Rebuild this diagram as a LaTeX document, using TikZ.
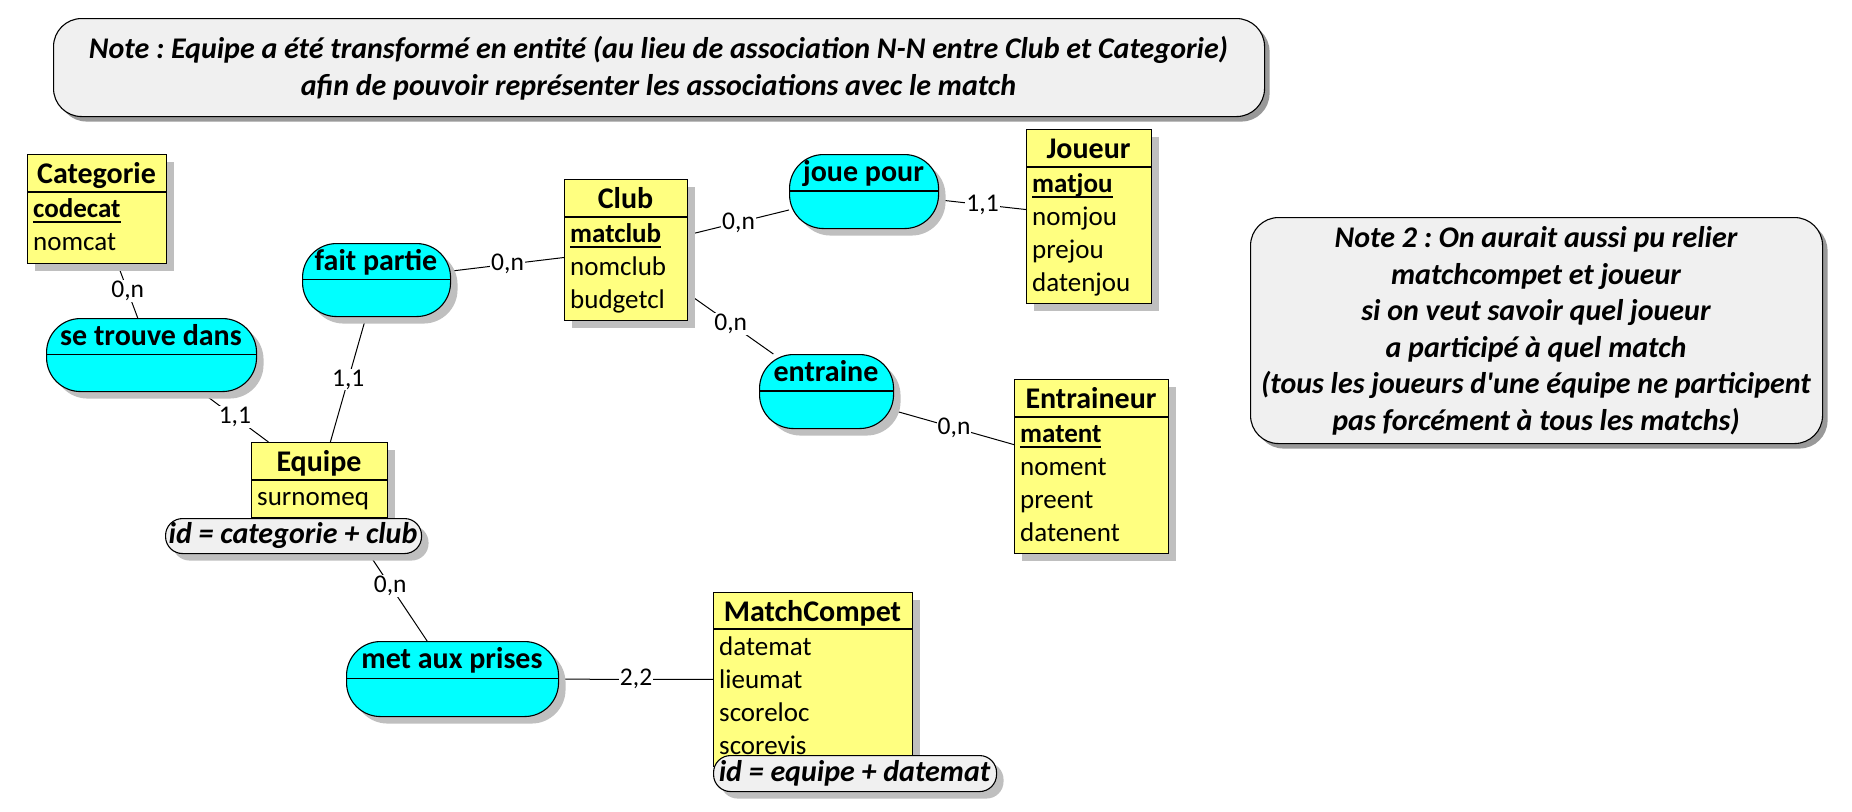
\documentclass[tikz,border=0pt]{standalone}
\usepackage{fontspec}
\setmainfont{Carlito}
\usetikzlibrary{shadows}
\definecolor{entyellow}{RGB}{255,255,128}
\definecolor{asscyan}{RGB}{0,255,255}
\definecolor{notegray}{RGB}{240,240,240}
\pgfdeclarelayer{bg}
\pgfsetlayers{bg,main}
\frenchspacing
\tikzset{
  shad/.style={drop shadow={shadow xshift=7pt, shadow yshift=-7pt, fill=black!25, opacity=1}},
  entbox/.style={draw=black, fill=entyellow, line width=1.1pt, anchor=north west, inner sep=0pt, shad},
  assoc/.style={draw=black, fill=asscyan, line width=1.1pt, rounded corners=34pt, anchor=north west, inner sep=0pt, shad},
  notebox/.style={draw=black, fill=notegray, line width=1.1pt, rounded corners=28pt, anchor=north west, inner sep=0pt,
     drop shadow={shadow xshift=5pt, shadow yshift=-5pt, fill=black!40, opacity=1}},
  idoval/.style={draw=black, fill=notegray, line width=1.1pt, rounded corners=17pt, anchor=north west, inner sep=0pt, shad},
  ttl/.style={font=\fontsize{30}{35}\selectfont\bfseries, anchor=base, inner sep=0pt},
  attr/.style={font=\fontsize{27}{32}\selectfont, anchor=base west, inner sep=0pt},
  card/.style={font=\fontsize{25.5}{30}\selectfont, fill=white, inner sep=1pt},
  link/.style={draw=black, line width=1pt},
  sep/.style={draw=black, line width=1.1pt},
  idtext/.style={font=\fontsize{30}{35}\selectfont\bfseries\itshape, inner sep=0pt},
  notetext/.style={font=\fontsize{30}{36.5}\selectfont\bfseries\itshape, align=center, inner sep=0pt}
}
\newcommand{\idattr}[1]{\setbox0\hbox{\bfseries #1}\rlap{\rule[-5.5pt]{\wd0}{1.2pt}}\box0}
\begin{document}
\begin{tikzpicture}[x=1pt,y=-1pt]
\useasboundingbox (0,0) rectangle (1852,811);

% ---------- Notes ----------
\node[notebox, minimum width=1211pt, minimum height=98pt] (note1) at (53,18) {};
\node[notetext] (note1t) at (658.5,68) {Note : Equipe a été transformé en entité (au lieu de association N-N entre Club et Categorie)\\afin de pouvoir représenter les associations avec le match};

\node[notebox, minimum width=572pt, minimum height=226pt] (note2) at (1250,217) {};
\node[notetext] (note2t) at (1536,331) {Note 2 : On aurait aussi pu relier\\matchcompet et joueur\\si on veut savoir quel joueur\\a participé à quel match\\(tous les joueurs d\textquotesingle une équipe ne participent\\pas forcément à tous les matchs)};

% ---------- Entities ----------
% Categorie
\node[entbox, minimum width=139pt, minimum height=109pt] (categorie) at (27,154) {};
\draw[sep] (27,192) -- (166,192);
\node[ttl] (categoriet) at (96.5,183) {Categorie};
\node[attr] (codecat) at (33,217) {\idattr{codecat}};
\node[attr] (nomcat) at (33,250) {nomcat};

% Equipe
\node[entbox, minimum width=136pt, minimum height=75pt] (equipe) at (251,442) {};
\draw[sep] (251,480) -- (387,480);
\node[ttl] (equipet) at (319,471) {Equipe};
\node[attr] (surnomeq) at (257,505) {surnomeq};
\node[idoval, minimum width=256pt, minimum height=35pt] (idequipe) at (165,518) {};
\node[idtext] (idequipet) at (293,535.5) {id = categorie + club};

% Club
\node[entbox, minimum width=123pt, minimum height=141pt] (club) at (564,179) {};
\draw[sep] (564,217) -- (687,217);
\node[ttl] (clubt) at (625.5,208) {Club};
\node[attr] (matclub) at (570,242) {\idattr{matclub}};
\node[attr] (nomclub) at (570,275) {nomclub};
\node[attr] (budgetcl) at (570,308) {budgetcl};

% Joueur
\node[entbox, minimum width=125pt, minimum height=174pt] (joueur) at (1026,129) {};
\draw[sep] (1026,167) -- (1151,167);
\node[ttl] (joueurt) at (1088.5,158) {Joueur};
\node[attr] (matjou) at (1032,192) {\idattr{matjou}};
\node[attr] (nomjou) at (1032,225) {nomjou};
\node[attr] (prejou) at (1032,258) {prejou};
\node[attr] (datenjou) at (1032,291) {datenjou};

% Entraineur
\node[entbox, minimum width=154pt, minimum height=174pt] (entraineur) at (1014,379) {};
\draw[sep] (1014,417) -- (1168,417);
\node[ttl] (entraineurt) at (1091,408) {Entraineur};
\node[attr] (matent) at (1020,442) {\idattr{matent}};
\node[attr] (noment) at (1020,475) {noment};
\node[attr] (preent) at (1020,508) {preent};
\node[attr] (datenent) at (1020,541) {datenent};

% MatchCompet
\node[entbox, minimum width=199pt, minimum height=174pt] (match) at (713,592) {};
\draw[sep] (713,629) -- (912,629);
\node[ttl] (matcht) at (812.5,621) {MatchCompet};
\node[attr] (datemat) at (719,655) {datemat};
\node[attr] (lieumat) at (719,688) {lieumat};
\node[attr] (scoreloc) at (719,721) {scoreloc};
\node[attr] (scorevis) at (719,754) {scorevis};
\node[idoval, minimum width=283pt, minimum height=36pt] (idmatch) at (713,755) {};
\node[idtext] (idmatcht) at (854.5,773) {id = equipe + datemat};

% ---------- Associations ----------
\node[assoc, minimum width=210pt, minimum height=73pt] (setrouve) at (46,318) {};
\draw[sep] (46,354.5) -- (256,354.5);
\node[ttl] (setrouvet) at (151,345) {se trouve dans};

\node[assoc, minimum width=148pt, minimum height=73pt] (faitpartie) at (302,243) {};
\draw[sep] (302,279.5) -- (450,279.5);
\node[ttl] (faitpartiet) at (376,270) {fait partie};

\node[assoc, minimum width=149pt, minimum height=74pt] (jouepour) at (789,154) {};
\draw[sep] (789,191) -- (938,191);
\node[ttl] (jouepourt) at (863.5,181) {joue pour};

\node[assoc, minimum width=134pt, minimum height=74pt] (entraine) at (759,354) {};
\draw[sep] (759,391) -- (893,391);
\node[ttl] (entrainet) at (826,381) {entraine};

\node[assoc, minimum width=212pt, minimum height=75pt] (metaux) at (346,641) {};
\draw[sep] (346,678.5) -- (558,678.5);
\node[ttl] (metauxt) at (452,668) {met aux prises};

% ---------- Connectors ----------
\begin{pgfonlayer}{bg}
\draw[link] (categorie) -- node[card] {0,n} (setrouve);
\draw[link] (setrouve) -- node[card] {1,1} (equipe);
\draw[link] (faitpartie) -- node[card] {1,1} (equipe);
\draw[link] (faitpartie) -- node[card] {0,n} (club);
\draw[link] (club) -- node[card] {0,n} (jouepour);
\draw[link] (club) -- node[card] {0,n} (entraine);
\draw[link] (jouepour) -- node[card] {1,1} (joueur);
\draw[link] (entraine) -- node[card] {0,n} (entraineur);
\draw[link] (equipe) -- node[card, pos=0.55] {0,n} (metaux);
\draw[link] (metaux) -- node[card] {2,2} (match);
\end{pgfonlayer}
\end{tikzpicture}
\end{document}
